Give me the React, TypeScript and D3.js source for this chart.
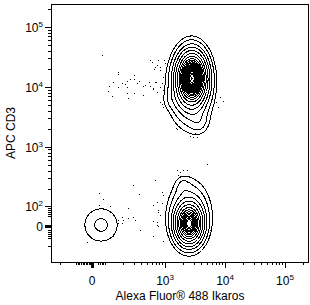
import React, { useMemo } from 'react';
import * as d3 from 'd3';

// plot frame in px
const W = 310;
const H = 305;
const PLOT = { left: 51, top: 4, right: 309, bottom: 262 };

// axis extents, data units
const X_DOMAIN = [-260, 251000];
const Y_DOMAIN = [-180, 240000];

// labelled ticks
const X_LABEL_TICKS = [0, 1e3, 1e4, 1e5];
const Y_LABEL_TICKS = [0, 1e2, 1e3, 1e4, 1e5];

// minor ticks
const X_MINOR_TICKS = [
  -200, -100, -90, -80, -70, -60, -50, -40, -30, -20, -10, 40, 50, 60, 70, 80,
  200, 300, 400, 500, 600, 700, 800, 900,
  2000, 3000, 4000, 5000, 6000, 7000, 8000, 9000,
  20000, 30000, 40000, 50000, 60000, 70000, 80000, 90000, 200000,
];
const Y_MINOR_TICKS = [
  -100, -60, -50, -40, -30, -20, 50, 60, 70, 80, 90,
  200, 300, 400, 500, 600, 700, 800, 900,
  2000, 3000, 4000, 5000, 6000, 7000, 8000, 9000,
  20000, 30000, 40000, 50000, 60000, 70000, 80000, 90000, 200000,
];

// populations (centre in data units, spread in decades)
const POP_X = [2820, 2610, 3680, 1307, 2510, 2510, 2000, 57];
const POP_Y = [14000, 9550, 2590, 6030, 10, 60, 222, 5];
const POP_SX = [0.13, 0.19, 0.1, 0.1, 0.12, 0.19, 0.08, 0.21];
const POP_SY = [0.23, 0.34, 0.12, 0.1, 0.18, 0.3, 0.1, 0.21];
const POP_W = [1.0, 0.14, 0.03, 0.015, 0.75, 0.1, 0.02, 0.034];

// contour levels
const LEVELS = [
  0.015, 0.03, 0.06, 0.1, 0.16, 0.24, 0.33, 0.42, 0.5, 0.57, 0.63, 0.69, 0.74,
  0.79, 0.84, 0.88, 0.92, 0.96, 1.0, 1.04, 1.08, 1.12,
];

// events outside the outer contours
const OUTLIERS: [number, number][] = [
  [63, 33900], [562, 28000], [735, 23100], [655, 19800], [825, 19000], [962, 28000],
  [925, 14600], [165, 17600], [165, 16300], [304, 15700], [261, 13500], [304, 13500],
  [133, 12000], [192, 11600], [232, 12500], [215, 11100], [368, 12500], [464, 10700],
  [541, 12000], [708, 12000], [891, 11600], [108, 10300], [165, 9900], [232, 9900],
  [341, 11600], [430, 10300], [562, 10300], [631, 9200], [825, 9900], [101, 8500],
  [127, 7000], [232, 7900], [304, 7900], [430, 7300], [242, 6500], [735, 8200],
  [925, 6000], [891, 5200], [1524, 2060],
  [607, 25900], [681, 21400], [764, 28000], [825, 21400], [1000, 24900], [681, 12000],
  [631, 9500], [925, 8800], [6800, 6500], [8250, 6800], [9250, 5800], [7080, 5600],
  [7640, 4600], [825, 5600], [925, 4600], [1585, 1980], [2610, 1510], [2930, 1460],
  [3410, 1460], [3160, 1700],
  [1585, 410], [1780, 380], [2000, 410], [2320, 410], [1645, 340], [2150, 326],
  [1920, 280], [2320, 260], [5010, 516], [681, 280], [891, 176], [925, 157],
  [735, 120], [631, 105], [891, 115], [764, 80], [825, 55], [735, 20], [764, 0],
  [631, -50], [925, -75], [5620, -20], [3680, 250],
  [292, 231], [44, 170], [368, 163], [70, 135], [44, 105], [114, 100], [764, 70],
  [242, 90], [192, 45], [165, 30], [200, 30], [242, 40], [292, 45], [165, 15],
  [192, 15], [316, 30], [383, -20], [631, 25], [735, 5], [-32, -80], [133, -50],
];

// log above v0, linear below (slope matched)
const biex = (v0: number) => (v: number) =>
  v >= v0 ? Math.log10(v) : Math.log10(v0) + (v - v0) / (v0 * Math.LN10);

const FONT = 'Liberation Sans, Arial, sans-serif';

const App = () => {
  const xT = biex(165);
  const yT = biex(130);
  const x = d3.scaleLinear().domain(X_DOMAIN.map(xT)).range([PLOT.left, PLOT.right]);
  const y = d3.scaleLinear().domain(Y_DOMAIN.map(yT)).range([PLOT.bottom, PLOT.top]);
  const X = (v: number) => x(xT(v));
  const Y = (v: number) => y(yT(v));
  const px = (v: number) => Math.round(v) + 0.5;

  const contours = useMemo(() => {
    const n = PLOT.right - PLOT.left;
    const m = PLOT.bottom - PLOT.top;
    const grid = new Float64Array(n * m);
    const cx = POP_X.map(xT);
    const cy = POP_Y.map(yT);
    for (let j = 0; j < m; j++) {
      const fy = y.invert(PLOT.top + j + 0.5);
      for (let i = 0; i < n; i++) {
        const fx = x.invert(PLOT.left + i + 0.5);
        let d = 0;
        for (let k = 0; k < POP_W.length; k++) {
          const dx = (fx - cx[k]) / POP_SX[k];
          const dy = (fy - cy[k]) / POP_SY[k];
          d += POP_W[k] * Math.exp(-0.5 * (dx * dx + dy * dy));
        }
        grid[j * n + i] = d;
      }
    }
    return d3.contours().size([n, m]).thresholds(LEVELS)(Array.from(grid));
  }, []);

  const geo = d3.geoPath();

  const label = (v: number, props: any) =>
    v === 0 ? (
      <text {...props}>0</text>
    ) : (
      <text {...props}>
        10<tspan dy={-5} fontSize={8}>{Math.round(Math.log10(v))}</tspan>
      </text>
    );

  return (
    <svg width={W} height={H} style={{ position: 'absolute', left: 0, top: 0, background: '#fff' }}>
      <g transform={`translate(${PLOT.left},${PLOT.top})`} fill="none" stroke="#000" strokeWidth={1} shapeRendering="crispEdges">
        {contours.map((c, i) => (
          <path key={i} d={geo(c as any) || ''} />
        ))}
      </g>
      <g fill="#000" shapeRendering="crispEdges">
        {OUTLIERS.map(([a, b], i) => (
          <rect key={i} x={Math.round(X(a))} y={Math.round(Y(b))} width={1} height={1} />
        ))}
      </g>

      <rect x={PLOT.left + 0.5} y={PLOT.top + 0.5} width={PLOT.right - PLOT.left - 1} height={PLOT.bottom - PLOT.top}
        fill="none" stroke="#000" shapeRendering="crispEdges" />

      <g stroke="#000" shapeRendering="crispEdges">
        {Y_LABEL_TICKS.map((v) => (
          <line key={v} x1={PLOT.left - 6} x2={PLOT.left} y1={px(Y(v))} y2={px(Y(v))} strokeWidth={v === 0 ? 3 : 1} />
        ))}
        {Y_MINOR_TICKS.map((v) => (
          <line key={v} x1={PLOT.left - 3} x2={PLOT.left} y1={px(Y(v))} y2={px(Y(v))} />
        ))}
        {X_LABEL_TICKS.map((v) => (
          <line key={v} y1={PLOT.bottom} y2={PLOT.bottom + 6} x1={px(X(v))} x2={px(X(v))} strokeWidth={v === 0 ? 3 : 1} />
        ))}
        {X_MINOR_TICKS.map((v) => (
          <line key={v} y1={PLOT.bottom} y2={PLOT.bottom + 3} x1={px(X(v))} x2={px(X(v))} />
        ))}
      </g>

      <g fontFamily={FONT} fontSize={12} fill="#000">
        {Y_LABEL_TICKS.map((v) =>
          <React.Fragment key={v}>{label(v, { x: 43, y: Y(v) + 5, textAnchor: 'end' })}</React.Fragment>
        )}
        {X_LABEL_TICKS.map((v) =>
          <React.Fragment key={v}>{label(v, { x: X(v), y: 285, textAnchor: 'middle' })}</React.Fragment>
        )}
        <text x={180} y={300} textAnchor="middle">Alexa Fluor® 488 Ikaros</text>
        <text transform="translate(15,133) rotate(-90)" textAnchor="middle">APC CD3</text>
      </g>
    </svg>
  );
};

export default App;
